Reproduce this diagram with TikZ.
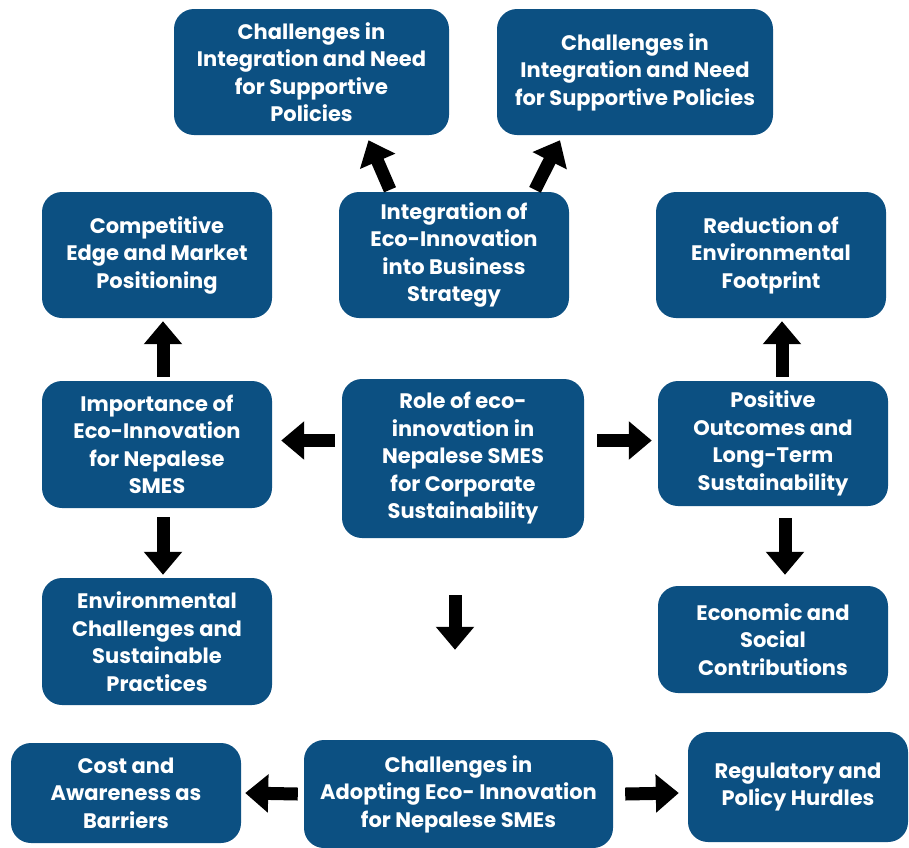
\documentclass[tikz,border=0pt]{standalone}
\usepackage{fontspec}
\setmainfont{Poppins}
\usetikzlibrary{arrows.meta,calc}
\definecolor{boxblue}{RGB}{12,80,130}
\begin{document}
\begin{tikzpicture}[x=1pt,y=-1pt,
  box/.style={fill=boxblue,draw=none,rounded corners=20pt,text=white,
    font=\fontsize{21}{27.5}\selectfont\bfseries,align=center,inner sep=0pt},
  blk/.style={line width=13pt,black,-{Triangle[width=37pt,length=23pt]}}]
\useasboundingbox (0,0) rectangle (909,847);

% boxes
\node[box,minimum width=275pt,minimum height=126pt] (tl) at (311.5,72)
  {Challenges in\\Integration and Need\\for Supportive\\Policies};
\node[box,minimum width=276pt,minimum height=126pt] (tr) at (635,72)
  {Challenges in\\Integration and Need\\for Supportive Policies};
\node[box,minimum width=230pt,minimum height=126pt] (integ) at (454,255)
  {Integration of\\Eco-Innovation\\into Business\\Strategy};
\node[box,minimum width=230pt,minimum height=126pt] (comp) at (157,255)
  {Competitive\\Edge and Market\\Positioning};
\node[box,minimum width=230pt,minimum height=126pt] (red) at (771,255)
  {Reduction of\\Environmental\\Footprint};
\node[box,minimum width=230pt,minimum height=127pt] (imp) at (157,444.5)
  {Importance of\\Eco-Innovation\\for Nepalese\\SMES};
\node[box,minimum width=242pt,minimum height=159pt] (role) at (463,458.5)
  {Role of eco-\\innovation in\\Nepalese SMES\\for Corporate\\Sustainability};
\node[box,minimum width=230pt,minimum height=125pt] (pos) at (773,443.5)
  {Positive\\Outcomes and\\Long-Term\\Sustainability};
\node[box,minimum width=230pt,minimum height=127pt] (env) at (157,641.5)
  {Environmental\\Challenges and\\Sustainable\\Practices};
\node[box,minimum width=230pt,minimum height=107pt] (eco) at (773,639.5)
  {Economic and\\Social\\Contributions};
\node[box,minimum width=230pt,minimum height=100pt] (cost) at (126,793)
  {Cost and\\Awareness as\\Barriers};
\node[box,minimum width=309pt,minimum height=108pt] (ado) at (458.5,794)
  {Challenges in\\Adopting Eco- Innovation\\for Nepalese SMEs};
\node[box,minimum width=220pt,minimum height=110pt] (reg) at (798,787)
  {Regulatory and\\Policy Hurdles};

% block arrows
\draw[blk] ($(integ.north)+(-64,-2)$) -- ($(tl.south)+(57,5)$);
\draw[blk] ($(integ.north)+(81,-2)$) -- ($(tr.south)+(-75,5)$);
\draw[blk] ($(imp.north)+(6,-4)$) -- ($(comp.south)+(6,3)$);
\draw[blk] ($(pos.north)+(9,-4)$) -- ($(red.south)+(11,3)$);
\draw[blk] ($(role.west |- imp.east)+(-7,-4)$) -- ($(imp.east)+(9,-4)$);
\draw[blk] ($(role.east |- pos.west)+(13,-3)$) -- ($(pos.west)+(-6,-3)$);
\draw[blk] ($(imp.south)+(6,9)$) -- ($(env.south |- env.north)+(6,-3)$);
\draw[blk] ($(pos.south)+(12,12)$) -- ($(eco.north)+(12,-11)$);
\draw[blk] ($(role.south)+(-8,57)$) -- ($(ado.north)+(-3.5,-90)$);
\draw[blk] ($(ado.west)+(-6,0)$) -- ($(cost.east)+(4,0)$);
\draw[blk] ($(ado.east)+(12,0)$) -- ($(reg.west)+(-9,6)$);
\end{tikzpicture}
\end{document}
